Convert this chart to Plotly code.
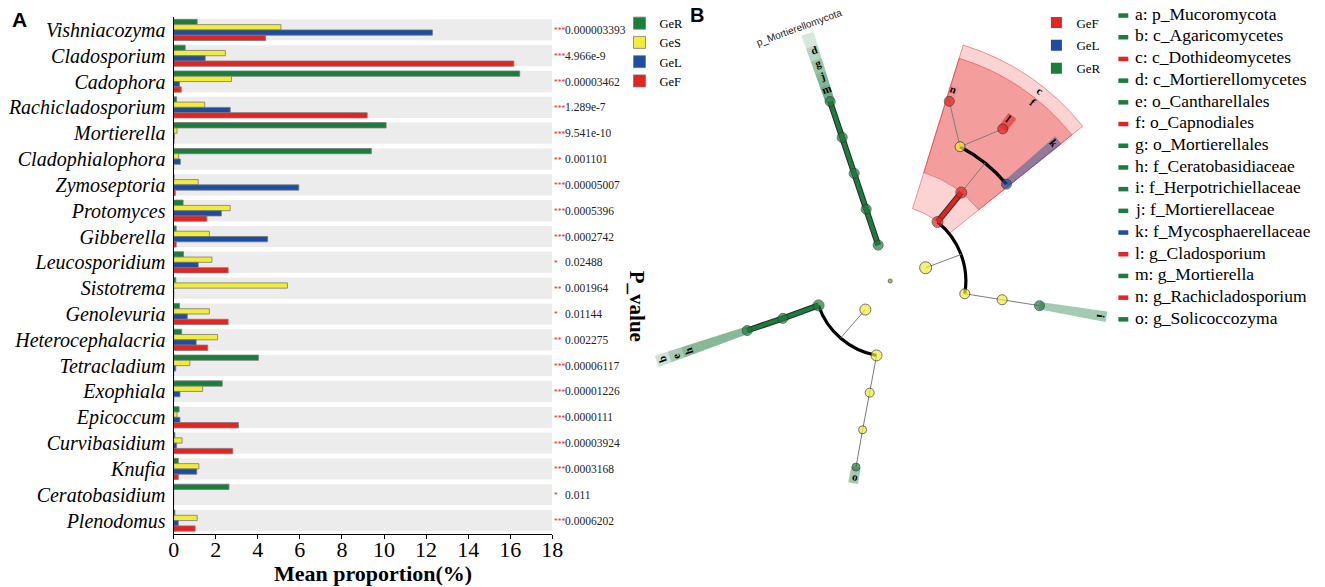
import numpy as np
import plotly.graph_objects as go

W, H = 1325, 587
SERIF = "Liberation Serif"
SANS = "Liberation Sans"

# ---------------- Panel A: mean proportion of genera per group ----------------
genera = ["Vishniacozyma", "Cladosporium", "Cadophora", "Rachicladosporium", "Mortierella",
          "Cladophialophora", "Zymoseptoria", "Protomyces", "Gibberella", "Leucosporidium",
          "Sistotrema", "Genolevuria", "Heterocephalacria", "Tetracladium", "Exophiala",
          "Epicoccum", "Curvibasidium", "Knufia", "Ceratobasidium", "Plenodomus"]
ger = [1.12, 0.55, 16.45, 0.14, 10.1, 9.4, 0.02, 0.45, 0.12, 0.47,
       0.10, 0.28, 0.38, 4.03, 2.31, 0.26, 0.06, 0.22, 2.63, 0.06]
ges = [5.10, 2.46, 2.75, 1.48, 0.16, 0.24, 1.17, 2.69, 1.70, 1.82,
       5.41, 1.70, 2.09, 0.77, 1.38, 0.16, 0.40, 1.20, 0.0, 1.12]
gel = [12.3, 1.50, 0.28, 2.69, 0.04, 0.32, 5.95, 2.27, 4.47, 1.17,
       0.0, 0.65, 1.07, 0.10, 0.30, 0.30, 0.14, 1.10, 0.0, 0.22]
gef = [4.37, 16.17, 0.36, 9.2, 0.02, 0.0, 0.08, 1.58, 0.12, 2.59,
       0.0, 2.59, 1.62, 0.0, 0.0, 3.08, 2.81, 0.22, 0.0, 1.02]
p_values = ["0.000003393", "4.966e-9", "0.00003462", "1.289e-7", "9.541e-10",
            "0.001101", "0.00005007", "0.0005396", "0.0002742", "0.02488",
            "0.001964", "0.01144", "0.002275", "0.00006117", "0.00001226",
            "0.0000111", "0.00003924", "0.0003168", "0.011", "0.0006202"]
p_stars = ["***", "***", "***", "***", "***", "**", "***", "***", "***", "*",
           "**", "*", "**", "***", "***", "***", "***", "***", "*", "***"]
x_ticks = [0, 2, 4, 6, 8, 10, 12, 14, 16, 18]

groups = ["GeR", "GeS", "GeL", "GeF"]
GREEN, YELLOW, BLUE, RED = "#1a7d3b", "#f1ec36", "#1d4d9f", "#e52320"
group_colors = {"GeR": GREEN, "GeS": YELLOW, "GeL": BLUE, "GeF": RED}

# ---------------- Panel B: LEfSe cladogram ----------------
# level 0 = kingdom (centre), 1 = phylum ... 5 = genus ; theta in degrees (ccw from east)
node_name = ["Fungi",
             "Mortierellomycota", "Mortierellomycetes", "Mortierellales", "Mortierellaceae", "Mortierella",
             "Ascomycota", "Dothideomycetes", "Capnodiales", "Cladosporiaceae", "Mycosphaerellaceae",
             "Rachicladosporium", "Cladosporium",
             "Eurotiomycetes", "Chaetothyriales", "Herpotrichiellaceae",
             "Basidiomycota", "Agaricomycetes", "Cantharellales", "Ceratobasidiaceae",
             "Tremellomycetes", "Filobasidiales", "Piskurozymaceae", "Solicoccozyma"]
node_level = [0, 1, 2, 3, 4, 5, 1, 2, 3, 4, 4, 5, 5, 2, 3, 4, 1, 2, 3, 4, 2, 3, 4, 5]
node_theta = [0, 108.5, 108.5, 108.5, 108.5, 108.5,
              20.5, 51.3, 51.2, 62.5, 39.8, 71.8, 53.5,
              -9.7, -9.5, -9.4,
              229.0, 198.8, 199.2, 199.1,
              259.6, 259.6, 259.5, 259.6]
node_group = [None, "GeR", "GeR", "GeR", "GeR", "GeR",
              None, "GeF", "GeF", None, "GeL", "GeF", "GeF",
              None, None, "GeR",
              None, "GeR", "GeR", "GeR",
              None, None, None, "GeR"]
node_size = [4, 10, 10, 10, 10, 10, 12, 11, 11, 10, 10, 10, 10,
             10, 10, 10, 11, 11, 10, 10, 11, 9, 8, 8]

thin_links = [("Cladosporiaceae", "Rachicladosporium"), ("Cladosporiaceae", "Cladosporium"),
              ("Eurotiomycetes", "Chaetothyriales"), ("Chaetothyriales", "Herpotrichiellaceae"),
              ("Tremellomycetes", "Filobasidiales"), ("Filobasidiales", "Piskurozymaceae"),
              ("Piskurozymaceae", "Solicoccozyma")]
thick_links = [("Mortierellomycota", "Mortierellomycetes"), ("Mortierellomycetes", "Mortierellales"),
               ("Mortierellales", "Mortierellaceae"), ("Mortierellaceae", "Mortierella"),
               ("Dothideomycetes", "Capnodiales"),
               ("Agaricomycetes", "Cantharellales"), ("Cantharellales", "Ceratobasidiaceae")]
# parent -> its children joined by a black arc at the children's level
arc_children = {"Ascomycota": ["Eurotiomycetes", "Dothideomycetes"],
                "Capnodiales": ["Mycosphaerellaceae", "Cladosporiaceae"],
                "Basidiomycota": ["Agaricomycetes", "Tremellomycetes"]}

# highlighted clades: letter, clade, level where the shading starts, sector centre / width (deg), alpha
clade_letter = ["a", "d", "g", "j", "m", "c", "f", "k", "l", "n", "i", "b", "e", "h", "o"]
clade_node = ["Mortierellomycota", "Mortierellomycetes", "Mortierellales", "Mortierellaceae", "Mortierella",
              "Dothideomycetes", "Capnodiales", "Mycosphaerellaceae", "Cladosporium", "Rachicladosporium",
              "Herpotrichiellaceae", "Agaricomycetes", "Cantharellales", "Ceratobasidiaceae", "Solicoccozyma"]
clade_start = [5, 5, 5, 5, 5, 2, 3, 4, 5, 5, 4, 4, 4, 4, 5]
clade_theta = [108.5, 108.5, 108.5, 108.5, 108.5, 55.8, 55.8, 39.9, 53.5, 71.8, -9.4, 199.0, 199.0, 199.0, 259.6]
clade_width = [2.8, 2.8, 2.8, 2.8, 2.8, 34.0, 34.0, 2.6, 2.8, 2.8, 2.8, 2.8, 2.8, 2.8, 2.8]
clade_alpha = [0.18, 0.18, 0.18, 0.18, 0.18, 0.2, 0.3, 0.45, 0.6, 0.06, 0.4, 0.22, 0.22, 0.22, 0.4]
phylum_label = ("p_Mortierellomycota", 110.0)

key_letters = ["a", "b", "c", "d", "e", "f", "g", "h", "i", "j", "k", "l", "m", "n", "o"]
key_names = ["p_Mucoromycota", "c_Agaricomycetes", "c_Dothideomycetes", "c_Mortierellomycetes",
             "o_Cantharellales", "o_Capnodiales", "o_Mortierellales", "f_Ceratobasidiaceae",
             "f_Herpotrichiellaceae", "f_Mortierellaceae", "f_Mycosphaerellaceae", "g_Cladosporium",
             "g_Mortierella", "g_Rachicladosporium", "g_Solicoccozyma"]

legend_b = ["GeF", "GeL", "GeR"]

# ---------------- geometry of the canvas (px) ----------------
STEP = 38.3                 # radial distance between taxonomic levels (px)
R = 278                     # radius of the polar area (px)
CX, CY = 896, 281           # cladogram centre (px)


def px_x(v):
    return v / W


def px_y(v):
    return 1 - v / H


def outer_radius(level):
    return 208 + (5 - level) * 14


def rgba(hex_color, a):
    h = hex_color.lstrip("#")
    return "rgba(%d,%d,%d,%.2f)" % (int(h[0:2], 16), int(h[2:4], 16), int(h[4:6], 16), a)


fig = go.Figure()

# ---- panel A bars ----
rows = list(range(len(genera)))
for g, vals in zip(groups, [ger, ges, gel, gef]):
    fig.add_trace(go.Bar(
        y=rows, x=vals, orientation="h", name=g,
        marker=dict(color=group_colors[g], line=dict(color="#7a7a7a", width=0.8)),
        legend="legend", hoverinfo="skip"))

shapes = [dict(type="rect", xref="x", yref="y", x0=0, x1=18, y0=i - 0.41, y1=i + 0.41,
               fillcolor="#ececec", line_width=0, layer="below") for i in rows]

annotations = []
for i, (pv, st) in enumerate(zip(p_values, p_stars)):
    annotations.append(dict(x=18, y=i, xref="x", yref="y", text=st, showarrow=False,
                            xanchor="left", yanchor="middle", xshift=0, yshift=-1,
                            font=dict(family=SERIF, size=7.5, color="#e52320")))
    annotations.append(dict(x=18, y=i, xref="x", yref="y", text=pv, showarrow=False,
                            xanchor="left", yanchor="middle", xshift=11,
                            font=dict(family=SERIF, size=11.5, color="#222")))

annotations += [
    dict(x=px_x(372), y=px_y(573), xref="paper", yref="paper", text="<b>Mean proportion(%)</b>",
         xanchor="center", yanchor="middle", showarrow=False,
         font=dict(family=SERIF, size=22, color="black")),
    dict(x=px_x(640), y=px_y(306), xref="paper", yref="paper", text="<b>P_value</b>", textangle=90,
         xanchor="center", yanchor="middle", showarrow=False,
         font=dict(family=SERIF, size=21, color="black")),
    dict(x=px_x(14.5), y=px_y(19.5), xref="paper", yref="paper", text="<b>A</b>",
         xanchor="center", yanchor="middle", showarrow=False,
         font=dict(family=SANS, size=21, color="black")),
    dict(x=px_x(700), y=px_y(15.5), xref="paper", yref="paper", text="<b>B</b>",
         xanchor="center", yanchor="middle", showarrow=False,
         font=dict(family=SANS, size=20, color="black")),
]

# ---- panel B cladogram ----
idx = {n: i for i, n in enumerate(node_name)}
node_r = [lv * STEP for lv in node_level]
node_col = [group_colors[g] if g else ("#9a9a1c" if lv == 0 else YELLOW)
            for g, lv in zip(node_group, node_level)]

# shaded clade sectors (lower polar layer)
sec_base, sec_len, sec_col, sec_line = [], [], [], []
for name, st, a in zip(clade_node, clade_start, clade_alpha):
    lv = node_level[idx[name]]
    col = group_colors[node_group[idx[name]]]
    sec_base.append(st * STEP)
    sec_len.append(outer_radius(lv) - st * STEP)
    sec_col.append(rgba(col, a))
    sec_line.append(rgba(col, 0.45) if col == RED and 0.1 < a < 0.5 else "rgba(0,0,0,0)")
fig.add_trace(go.Barpolar(base=sec_base, r=sec_len, theta=clade_theta, width=clade_width,
                          marker=dict(color=sec_col, line=dict(color=sec_line, width=1)),
                          subplot="polar", showlegend=False, hoverinfo="skip"))

# black arcs joining siblings
arc_base, arc_theta, arc_width = [], [], []
for parent, kids in arc_children.items():
    ths = [node_theta[idx[k]] for k in kids]
    lv = node_level[idx[kids[0]]]
    arc_base.append(lv * STEP - 1.6)
    arc_theta.append((min(ths) + max(ths)) / 2)
    arc_width.append(max(ths) - min(ths))
fig.add_trace(go.Barpolar(base=arc_base, r=[3.2] * len(arc_base), theta=arc_theta, width=arc_width,
                          marker=dict(color="black", line=dict(width=0)),
                          subplot="polar", showlegend=False, hoverinfo="skip"))

# thin grey links (including the radial stubs from a parent to its arc) - upper polar layer
tr, tt = [], []
for a, b in thin_links:
    tr += [node_r[idx[a]], node_r[idx[b]], None]
    tt += [node_theta[idx[a]], node_theta[idx[b]], None]
for parent in arc_children:
    i = idx[parent]
    tr += [node_r[i], node_r[i] + STEP, None]
    tt += [node_theta[i], node_theta[i], None]
fig.add_trace(go.Scatterpolar(r=tr, theta=tt, mode="lines", line=dict(color="#7d7d7d", width=1),
                              subplot="polar2", showlegend=False, hoverinfo="skip"))

# thick coloured links of significant clades (dark edge + colour)
for g in ["GeR", "GeF"]:
    kr, kt = [], []
    for a, b in thick_links:
        if node_group[idx[b]] == g:
            kr += [node_r[idx[a]], node_r[idx[b]], None]
            kt += [node_theta[idx[a]], node_theta[idx[b]], None]
    for lw, lc in [(6, "#2b2b2b"), (4, group_colors[g])]:
        fig.add_trace(go.Scatterpolar(r=kr, theta=kt, mode="lines", line=dict(color=lc, width=lw),
                                      subplot="polar2", showlegend=False, hoverinfo="skip"))

fig.add_trace(go.Scatterpolar(r=node_r, theta=node_theta, mode="markers",
                              marker=dict(size=node_size, color=node_col, line=dict(color="#333", width=1)),
                              text=node_name, subplot="polar2", showlegend=False, hoverinfo="text"))

for g in legend_b:
    fig.add_trace(go.Scatterpolar(r=[None], theta=[None], mode="markers", name=g, legend="legend2",
                                  legendgroup=g, subplot="polar2",
                                  marker=dict(symbol="square", size=11, color=group_colors[g])))

# rotated clade letters / phylum name, placed on an overlay frame in px units
for let, name in zip(clade_letter, clade_node):
    if let == "a":
        continue
    i = idx[name]
    rr = outer_radius(node_level[i]) - 6
    th = node_theta[i]
    annotations.append(dict(x=rr * np.cos(np.radians(th)), y=rr * np.sin(np.radians(th)),
                            xref="x2", yref="y2", text="<b>%s</b>" % let, showarrow=False,
                            xanchor="center", yanchor="middle",
                            textangle=((90 - th + 180) % 360) - 180,
                            font=dict(family=SERIF, size=11, color="black")))
pl_text, pl_theta = phylum_label
annotations.append(dict(x=270 * np.cos(np.radians(pl_theta)), y=270 * np.sin(np.radians(pl_theta)),
                        xref="x2", yref="y2", text=pl_text, showarrow=False, textangle=90 - pl_theta,
                        xanchor="center", yanchor="middle",
                        font=dict(family=SANS, size=10, color="#222")))

# key of the clade letters (right side)
letter_color = {let: group_colors[node_group[idx[n]]] for let, n in zip(clade_letter, clade_node)}
for k, (let, nm) in enumerate(zip(key_letters, key_names)):
    yc = 13.8 + 21.7 * k
    shapes.append(dict(type="rect", xref="paper", yref="paper", x0=px_x(1127), x1=px_x(1137),
                       y0=px_y(yc + 4), y1=px_y(yc - 0.5), fillcolor=letter_color[let], line_width=0))
    annotations.append(dict(x=px_x(1141.5), y=px_y(yc), xref="paper", yref="paper",
                            text="%s: %s" % (let, nm), showarrow=False, xanchor="left", yanchor="middle",
                            font=dict(family=SERIF, size=17.5, color="black")))

pdom_x = [px_x(CX - R), px_x(CX + R)]
pdom_y = [px_y(CY + R), px_y(CY - R)]
polar_common = dict(domain=dict(x=pdom_x, y=pdom_y), bgcolor="rgba(0,0,0,0)", barmode="overlay",
                    radialaxis=dict(visible=False, range=[0, R]),
                    angularaxis=dict(visible=False, rotation=0, direction="counterclockwise"))

fig.update_layout(
    width=W, height=H, margin=dict(l=0, r=0, t=0, b=0),
    paper_bgcolor="white", plot_bgcolor="white",
    barmode="group", bargap=0.18, bargroupgap=0,
    xaxis=dict(domain=[px_x(170.7), px_x(554)], range=[0, 18], tickvals=x_ticks,
               ticks="outside", ticklen=4, tickcolor="black", showline=True, linecolor="black",
               linewidth=1.2, showgrid=False, zeroline=False, anchor="y", ticklabelstandoff=-8,
               tickfont=dict(family=SERIF, size=22, color="black")),
    yaxis=dict(domain=[px_y(533.5), px_y(17)], range=[19.5, -0.5], tickvals=rows, ticktext=genera,
               showline=True, linecolor="black", linewidth=1.2, showgrid=False, zeroline=False,
               ticks="", ticklabelstandoff=3, anchor="x",
               tickfont=dict(family=SERIF, size=20, color="black", style="italic")),
    xaxis2=dict(domain=pdom_x, range=[-R, R], visible=False, anchor="y2", fixedrange=True),
    yaxis2=dict(domain=pdom_y, range=[-R, R], visible=False, anchor="x2", fixedrange=True),
    polar=polar_common,
    polar2=polar_common,
    legend=dict(x=px_x(622), y=px_y(8.5), xanchor="left", yanchor="top", bgcolor="rgba(0,0,0,0)",
                font=dict(family=SERIF, size=12.5, color="black"), itemwidth=30),
    legend2=dict(x=px_x(1044), y=px_y(7.5), xanchor="left", yanchor="top", bgcolor="rgba(0,0,0,0)",
                 traceorder="grouped", tracegroupgap=3,
                 font=dict(family=SERIF, size=13, color="black"), itemwidth=30),
    shapes=shapes, annotations=annotations,
)

# the page's default 8 px body margin would shift the fixed-size figure
fig.write_html("out.html", config={"displayModeBar": False},
               post_script="document.body.style.margin='0px';")
